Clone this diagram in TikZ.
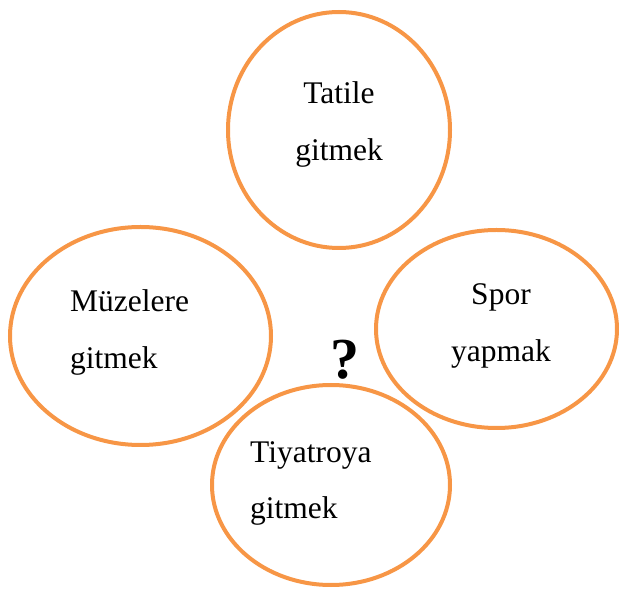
\documentclass[tikz,border=0pt]{standalone}
\usepackage{fontspec}
\setmainfont{Liberation Serif}
\usetikzlibrary{shapes.geometric}
\definecolor{ringorange}{HTML}{F79646}
\begin{document}
\begin{tikzpicture}[x=1pt, y=-1pt, ring/.style={ellipse, draw=ringorange, line width=4pt, inner sep=0pt},
word/.style={font=\fontsize{31.5}{57}\selectfont, inner sep=0pt}]
\useasboundingbox (0,0) rectangle (619,593);
% the four rings
\node[ring, minimum width=222pt, minimum height=236pt] (tatile) at (339,130) {};
\node[ring, minimum width=261pt, minimum height=218pt] (muze) at (140.5,336) {};
\node[ring, minimum width=241pt, minimum height=198pt] (spor) at (496.5,329) {};
\node[ring, minimum width=238pt, minimum height=200pt] (tiyatro) at (331,485) {};
% their texts
\node[word, align=center, anchor=base] (tatiletxt) at (339,161) {Tatile\\gitmek};
\node[word, align=left, anchor=base west] (muzetxt) at (70,369) {Müzelere\\gitmek};
\node[word, align=center, anchor=base] (sportxt) at (501,362) {Spor\\yapmak};
\node[word, align=left, anchor=base west] (tiyatrotxt) at (250,519) {Tiyatroya\\gitmek};
% question mark
\node[font=\fontsize{58}{58}\selectfont\bfseries, inner sep=0pt, anchor=base] (soru) at (345,379) {?};
\end{tikzpicture}
\end{document}
